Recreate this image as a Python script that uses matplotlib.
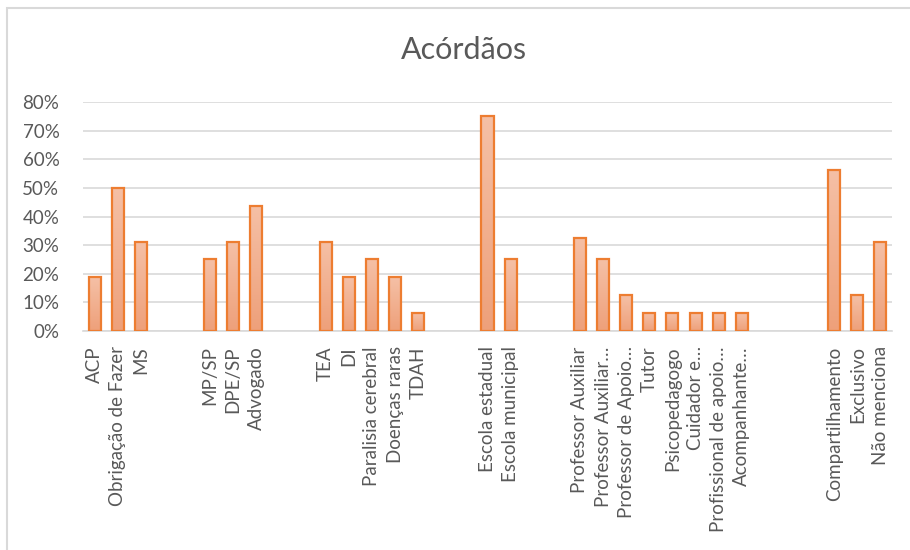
import numpy as np
import matplotlib
matplotlib.use("Agg")
import matplotlib.pyplot as plt
from matplotlib.patches import Rectangle
from matplotlib.colors import LinearSegmentedColormap
from matplotlib.ticker import PercentFormatter

plt.rcParams['font.family'] = ['Lato', 'DejaVu Sans']

# Category groups and their shares
acao_labels = ["ACP", "Obrigação de Fazer", "MS"]
acao_vals = [0.1875, 0.50, 0.3125]

autor_labels = ["MP/SP", "DPE/SP", "Advogado"]
autor_vals = [0.25, 0.3125, 0.4375]

diag_labels = ["TEA", "DI", "Paralisia cerebral", "Doenças raras", "TDAH"]
diag_vals = [0.3125, 0.1875, 0.25, 0.1875, 0.0625]

escola_labels = ["Escola estadual", "Escola municipal"]
escola_vals = [0.75, 0.25]

prof_labels = ["Professor Auxiliar", "Professor Auxiliar…", "Professor de Apoio…",
               "Tutor", "Psicopedagogo", "Cuidador e…", "Profissional de apoio…",
               "Acompanhante…"]
prof_vals = [0.325, 0.25, 0.125, 0.0625, 0.0625, 0.0625, 0.0625, 0.0625]

atend_labels = ["Compartilhamento", "Exclusivo", "Não menciona"]
atend_vals = [0.5625, 0.125, 0.3125]

groups = [(acao_labels, acao_vals), (autor_labels, autor_vals),
          (diag_labels, diag_vals), (escola_labels, escola_vals),
          (prof_labels, prof_vals), (atend_labels, atend_vals)]
gaps_after = [2, 2, 2, 2, 3, 0]

# Lay out the categories with empty slots between groups
labels, values = [], []
for (g_lab, g_val), gap in zip(groups, gaps_after):
    labels += g_lab
    values += g_val
    labels += [""] * gap
    values += [np.nan] * gap
x = np.arange(len(labels))

fig = plt.figure(figsize=(9.1, 5.5), dpi=100)
fig.patch.set_facecolor("white")
# outer chart border
fig.add_artist(Rectangle((7 / 910, -0.05), 1.2, 1 - 8 / 550 + 0.05,
                         transform=fig.transFigure, fill=False,
                         edgecolor="#D9D9D9", linewidth=1.5))

ax = fig.add_axes([83 / 910, 1 - 331 / 550, (892 - 83) / 910, (331 - 102) / 550])

text_col = "#595959"
grid_col = "#D9D9D9"
ax.set_yticks(np.arange(0, 0.81, 0.1))
ax.yaxis.set_major_formatter(PercentFormatter(1.0, decimals=0))
ax.grid(axis="y", color=grid_col, linewidth=1.2)
ax.set_axisbelow(True)
for s in ["left", "right", "top"]:
    ax.spines[s].set_visible(False)
ax.spines["bottom"].set_color(grid_col)
ax.spines["bottom"].set_linewidth(1.2)

bars = ax.bar(x, values, width=0.52, facecolor="none",
              edgecolor="#ED7D31", linewidth=1.6, zorder=3)

# vertical gradient fill inside each bar
cmap = LinearSegmentedColormap.from_list("fill", ["#EEA07A", "#F5C0A6"])
grad = np.linspace(0, 1, 256).reshape(-1, 1)
for b in bars:
    h = b.get_height()
    if not np.isfinite(h) or h == 0:
        continue
    x0 = b.get_x()
    im = ax.imshow(grad, cmap=cmap, origin="lower", aspect="auto",
                   extent=(x0, x0 + b.get_width(), 0, h), zorder=2)
    im.set_clip_path(b)
ax.set_xlim(-0.5, len(labels) - 0.5)
ax.set_ylim(0, 0.8)

ax.set_xticks(x)
ax.set_xticklabels(labels, rotation=90, ha="center", va="top",
                   fontsize=13.5, color=text_col)
ax.tick_params(axis="x", length=0, pad=11)
ax.tick_params(axis="y", length=0, pad=17, labelsize=13.5, labelcolor=text_col)

fig.text(464 / 910, 1 - 50 / 550, "Acórdãos",
         ha="center", va="center", fontsize=22, color=text_col)

fig.savefig("out.png", dpi=100, facecolor="white")
